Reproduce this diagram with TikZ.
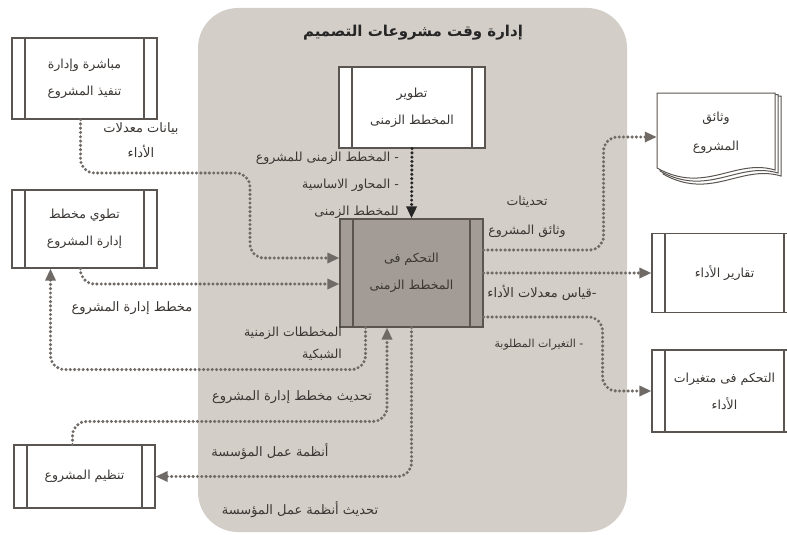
\documentclass[tikz,border=0pt]{standalone}
\usepackage{fontspec}
\newfontfamily\arabicfont[Script=Arabic]{DejaVu Sans}
\TeXXeTstate=1
\usetikzlibrary{arrows.meta}

\definecolor{panelgrey}{HTML}{D4CEC8}
\definecolor{ctrlgrey}{HTML}{A39C96}
\definecolor{boxline}{HTML}{5A5550}
\definecolor{flowgrey}{HTML}{6F6A66}
\definecolor{txt}{HTML}{3A3633}
\newcommand{\rtxt}[1]{\beginR#1\endR}

\begin{document}
\begin{tikzpicture}[x=1pt, y=-1pt,
    proc/.style={draw=boxline, fill=white, line width=1.1pt, align=center, text=txt,
      font=\arabicfont\fontsize{12.5}{27}\selectfont, inner sep=0pt,
      minimum width=145pt, minimum height=81pt,
      path picture={\draw[boxline, line width=1.1pt]
        ([xshift=13pt]path picture bounding box.north west) -- ([xshift=13pt]path picture bounding box.south west)
        ([xshift=-13pt]path picture bounding box.north east) -- ([xshift=-13pt]path picture bounding box.south east);}},
    flow/.style={draw=flowgrey, line width=3.4pt, dash pattern=on 0pt off 4.3pt, line cap=round,
      rounded corners=14pt, -{Triangle[length=12pt,width=10pt]}},
    lbl/.style={text=txt, font=\arabicfont\fontsize{13}{25}\selectfont, align=center, inner sep=1pt}]
  \useasboundingbox (0,0) rectangle (787,535);

  % grey panel and title
  \fill[panelgrey, rounded corners=40pt] (198,8) rectangle (627,532);
  \draw (413,33) node[text=black!85, font=\arabicfont\bfseries\fontsize{15}{18}\selectfont] (title) {\rtxt{إدارة وقت مشروعات التصميم}};

  % processes
  \draw (84.5,78.5) node[proc] (exec) {\rtxt{مباشرة وإدارة}\\\rtxt{تنفيذ المشروع}};
  \draw (84.5,229) node[proc, minimum height=78pt] (plan) {\rtxt{تطوي مخطط}\\\rtxt{إدارة المشروع}};
  \draw (412,107.5) node[proc, minimum width=146pt] (dev) {\rtxt{تطوير}\\\rtxt{المخطط الزمنى}};
  \draw (411.5,273) node[proc, fill=ctrlgrey, minimum width=143pt, minimum height=108pt] (ctrl) {\rtxt{التحكم فى}\\\rtxt{المخطط الزمنى}};
  \draw (724.5,273) node[proc, minimum height=79pt] (rep) {\rtxt{تقارير الأداء}};
  \draw (724.5,391) node[proc, minimum height=82pt] (var) {\rtxt{التحكم فى متغيرات}\\\rtxt{الأداء}};
  \draw (84.5,476.5) node[proc, minimum width=141pt, minimum height=63pt] (org) {\rtxt{تنظيم المشروع}};

  % document stack
  \foreach \d in {6,3,0}
    \draw[boxline, line width=1pt, fill=white] (657+\d,93+\d*0.5) -- (775+\d,93+\d*0.5) -- (775+\d,170+\d)
      .. controls (735+\d,158+\d) and (705+\d,195+\d) .. (657+\d,168+\d) -- cycle;
  \draw (716,133) node[align=center, text=txt, font=\arabicfont\fontsize{12.5}{29}\selectfont,
    minimum width=118pt, minimum height=80pt, inner sep=0pt] (doc) {\rtxt{وثائق}\\\rtxt{المشروع}};

  % connectors
  \draw[flow] ([xshift=-4pt]exec.south) |- (250,173) |- ([yshift=15pt]ctrl.west);
  \draw[flow] ([xshift=-4pt]plan.south) |- ([yshift=-11pt]ctrl.west);
  \draw[flow] ([xshift=-46pt]ctrl.south) -- ++(0,42) -| ([xshift=-34pt]plan.south);
  \draw[flow] ([xshift=-12pt]org.north) -- ++(0,-23) -| ([xshift=-24.5pt]ctrl.south);
  \draw[flow] (ctrl.south) |- (org.east);
  \draw[flow, draw=black!85] (dev.south) -- (ctrl.north);
  \draw[flow] ([yshift=23pt]ctrl.east) -- ++(120,0) |- ([yshift=-4pt]doc.west);
  \draw[flow] (ctrl.east) -- (rep.west);
  \draw[flow] ([yshift=-44pt]ctrl.east) -- ++(119,0) |- (var.west);

  % labels
  \draw (141,140) node[lbl] (l1) {\rtxt{بيانات معدلات}\\\rtxt{الأداء}};
  \draw (400,185) node[lbl, anchor=east, align=right, font=\arabicfont\fontsize{12.5}{27}\selectfont] (l2)
    {\rtxt{- المخطط الزمنى للمشروع}\\\rtxt{- المحاور الاساسية}\\\rtxt{للمخطط الزمنى}};
  \draw (132,308) node[lbl] (l3) {\rtxt{مخطط إدارة المشروع}};
  \draw (343,344) node[lbl, anchor=east, align=right, font=\arabicfont\fontsize{12.5}{22}\selectfont] (l4)
    {\rtxt{المخططات الزمنية}\\\rtxt{الشبكية}};
  \draw (292,397) node[lbl] (l5) {\rtxt{تحديث مخطط إدارة المشروع}};
  \draw (270,452) node[lbl] (l6) {\rtxt{أنظمة عمل المؤسسة}};
  \draw (300,510) node[lbl] (l7) {\rtxt{تحديث أنظمة عمل المؤسسة}};
  \draw (527,217) node[lbl, font=\arabicfont\fontsize{12.5}{29}\selectfont] (l8) {\rtxt{تحديثات}\\\rtxt{وثائق المشروع}};
  \draw (542,293) node[lbl] (l9) {\rtxt{-قياس معدلات الأداء}};
  \draw (539,345) node[lbl, font=\arabicfont\fontsize{11}{13}\selectfont] (l10) {\rtxt{- التغيرات المطلوبة}};
\end{tikzpicture}
\end{document}
